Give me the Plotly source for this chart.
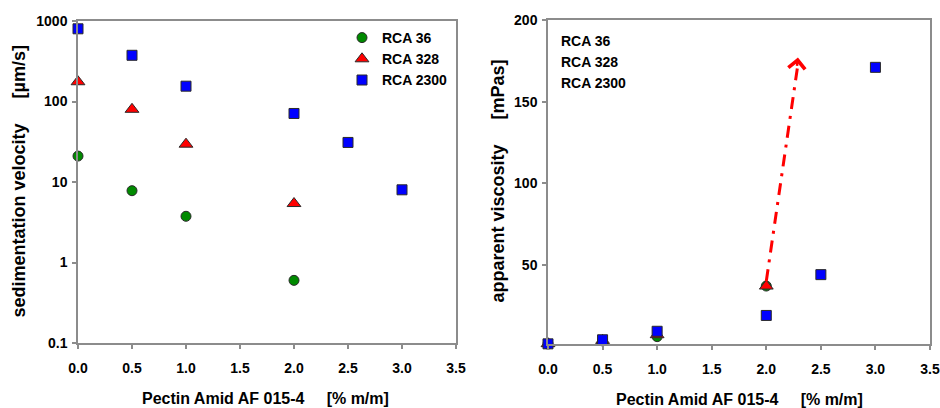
import plotly.graph_objects as go

# ---------------- data ----------------
conc_sed_36 = [0.0, 0.5, 1.0, 2.0]
sed_36 = [21, 7.8, 3.75, 0.6]
conc_sed_328 = [0.0, 0.5, 1.0, 2.0]
sed_328 = [176, 80, 29.5, 5.4]
conc_sed_2300 = [0.0, 0.5, 1.0, 2.0, 2.5, 3.0]
sed_2300 = [800, 375, 155, 71, 31, 8.0]

conc_vis_36 = [0.0, 0.5, 1.0, 2.0]
vis_36 = [1.5, 3.4, 6.0, 37]
conc_vis_328 = [0.0, 0.5, 1.0, 2.0]
vis_328 = [1.7, 3.7, 7.2, 37]
conc_vis_2300 = [0.0, 0.5, 1.0, 2.0, 2.5, 3.0]
vis_2300 = [1.6, 4.1, 9.3, 19, 44, 171]

series_names = ["RCA 36", "RCA 328", "RCA 2300"]
x_ticks = [0.0, 0.5, 1.0, 1.5, 2.0, 2.5, 3.0, 3.5]
x_ticklabels = ["0.0", "0.5", "1.0", "1.5", "2.0", "2.5", "3.0", "3.5"]
sed_ticks = [0.1, 1, 10, 100, 1000]
sed_ticklabels = ["0.1", "1", "10", "100", "1000"]
vis_ticks = [50, 100, 150, 200]
vis_ticklabels = ["50", "100", "150", "200"]

arrow_x = [2.0, 2.29]
arrow_y = [40, 177]

# ---------------- styles ----------------
FONT = "Liberation Sans, Arial, sans-serif"
GREEN = "#008a00"
RED = "#ff0000"
BLUE = "#0000ff"
EDGE = "#2a2a2a"
AXC = "#8c8c8c"

fig = go.Figure()

def add(x, y, name, sym, color, size, xa, ya, show):
    fig.add_trace(go.Scatter(
        x=x, y=y, mode="markers", name=name, showlegend=show,
        marker=dict(symbol=sym, color=color, size=size, line=dict(color=EDGE, width=1)),
        xaxis=xa, yaxis=ya, cliponaxis=False))

add(conc_sed_36, sed_36, series_names[0], "circle", GREEN, 10, "x", "y", True)
add(conc_sed_328, sed_328, series_names[1], "triangle-up", RED, 12, "x", "y", True)
add(conc_sed_2300, sed_2300, series_names[2], "square", BLUE, 10, "x", "y", True)

add(conc_vis_36, vis_36, series_names[0], "circle", GREEN, 10, "x2", "y2", False)
add(conc_vis_328, vis_328, series_names[1], "triangle-up", RED, 12, "x2", "y2", False)
add(conc_vis_2300, vis_2300, series_names[2], "square", BLUE, 10, "x2", "y2", False)

W, H = 940, 408
def px_x(a, b):
    return [a / W, b / W]
def px_y(top, bottom):
    return [(H - bottom) / H, (H - top) / H]

tickfont = dict(family=FONT, size=14, color="black", weight="bold")
common_x = dict(range=[0, 3.5], tickvals=x_ticks, ticktext=x_ticklabels,
                showline=True, linecolor=AXC, linewidth=1.5, mirror=True,
                ticks="outside", ticklen=4, tickcolor=AXC, tickwidth=1.5,
                ticklabelstandoff=7,
                showgrid=False, zeroline=False, tickfont=tickfont, automargin=False)
common_y = dict(showline=True, linecolor=AXC, linewidth=1.5, mirror=True,
                ticks="outside", ticklen=4, tickcolor=AXC, tickwidth=1.5,
                ticklabelstandoff=2,
                showgrid=False, zeroline=False, tickfont=tickfont, automargin=False)

fig.update_layout(
    width=W, height=H,
    margin=dict(l=0, r=0, t=0, b=0, pad=0, autoexpand=False),
    paper_bgcolor="white", plot_bgcolor="white",
    xaxis=dict(domain=px_x(78, 456), anchor="y", **common_x),
    yaxis=dict(domain=px_y(21, 343), anchor="x", type="log", range=[-1, 3],
               tickvals=sed_ticks, ticktext=sed_ticklabels, **common_y),
    xaxis2=dict(domain=px_x(548, 930), anchor="y2", **common_x),
    yaxis2=dict(domain=px_y(20, 344), anchor="x2", range=[1.5, 200],
                tickvals=vis_ticks, ticktext=vis_ticklabels, **common_y),
    legend=dict(x=342 / W, y=(H - 22) / H, xanchor="left", yanchor="top",
                bgcolor="rgba(0,0,0,0)", tracegroupgap=0,
                font=dict(family=FONT, size=14, color="black", weight="bold")),
    showlegend=True,
)

xtitlefont = dict(family=FONT, size=16, color="black", weight="bold")
ytitlefont = dict(family=FONT, size=18, color="black", weight="bold")
nb = "\u00a0"
xt = "Pectin Amid AF 015-4" + nb * 4 + " [% m/m]"
fig.add_annotation(x=265.5 / W, y=(H - 398) / H, xref="paper", yref="paper",
                   xanchor="center", yanchor="middle",
                   text=xt, showarrow=False, font=xtitlefont)
fig.add_annotation(x=739 / W, y=(H - 399) / H, xref="paper", yref="paper",
                   xanchor="center", yanchor="middle",
                   text=xt, showarrow=False, font=xtitlefont)
fig.add_annotation(x=18 / W, y=(H - 181.5) / H, xref="paper", yref="paper",
                   xanchor="center", yanchor="middle",
                   text="sedimentation velocity" + nb * 5 + "[µm/s]", textangle=-90,
                   showarrow=False, font=ytitlefont)
fig.add_annotation(x=497 / W, y=(H - 181.5) / H, xref="paper", yref="paper",
                   xanchor="center", yanchor="middle",
                   text="apparent viscosity" + nb * 5 + "[mPas]", textangle=-90,
                   showarrow=False, font=ytitlefont)

# right panel labels (legend text without symbols)
for i, name in enumerate(series_names):
    fig.add_annotation(x=559 / W, y=(H - (41 + 21 * i)) / H, xref="paper", yref="paper",
                       text=name, showarrow=False, xanchor="left", yanchor="middle",
                       font=dict(family=FONT, size=14, color="black", weight="bold"))

# dash-dot arrow
fig.add_shape(type="line", xref="x2", yref="y2",
              x0=arrow_x[0], y0=arrow_y[0], x1=arrow_x[1], y1=arrow_y[1] - 4,
              line=dict(color=RED, width=3, dash="12px,7px,3px,7px"))
fig.add_annotation(x=arrow_x[1], y=arrow_y[1], xref="x2", yref="y2",
                   ax=arrow_x[1] - 0.01, ay=arrow_y[1] - 6, axref="x2", ayref="y2",
                   showarrow=True, arrowhead=4, arrowsize=1.3, arrowwidth=2.5,
                   arrowcolor=RED, text="")

fig.write_html("out.html", config={"displayModeBar": False},
               post_script="document.body.style.margin='0';")
